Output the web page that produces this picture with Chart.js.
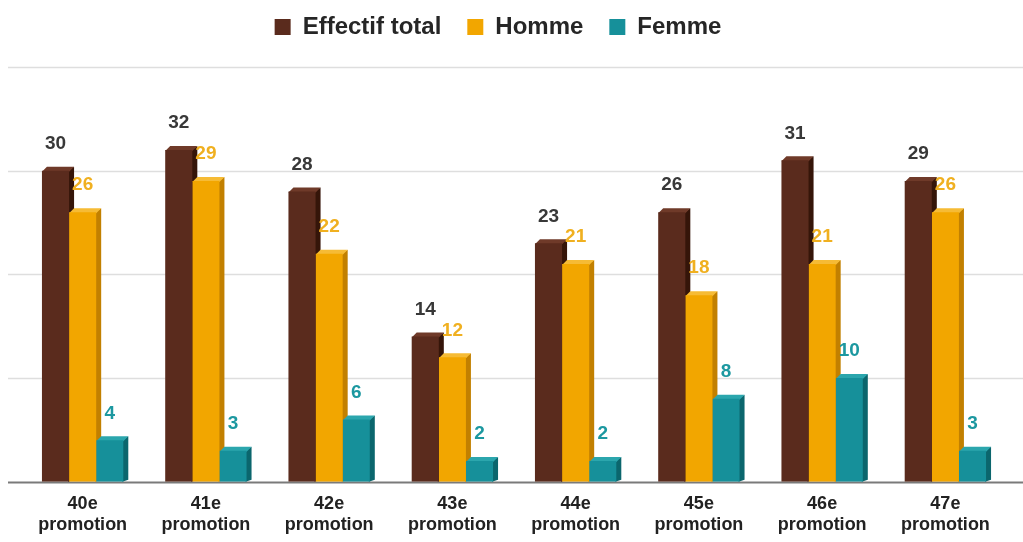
<!DOCTYPE html>
<html>
<head>
<meta charset="utf-8">
<script src="https://cdn.jsdelivr.net/npm/chart.js@4.4.1/dist/chart.umd.min.js"></script>
<style>
  html, body { margin: 0; padding: 0; background: #fff; }
  #wrap { width: 1023px; height: 542px; }
</style>
</head>
<body>
<div id="wrap"><canvas id="promoChart"></canvas></div>
<script>
const promotions = [
  ['40e', 'promotion'], ['41e', 'promotion'], ['42e', 'promotion'], ['43e', 'promotion'],
  ['44e', 'promotion'], ['45e', 'promotion'], ['46e', 'promotion'], ['47e', 'promotion']
];
const effectifTotal = [30, 32, 28, 14, 23, 26, 31, 29];
const hommes = [26, 29, 22, 12, 21, 18, 21, 26];
const femmes = [4, 3, 6, 2, 2, 8, 10, 3];

const FONT = '"Liberation Sans", Arial, sans-serif';

// front / side / top colours and label colour per series
const styles = [
  { front: '#5a2b1d', side: '#351509', top: '#6f3a29', label: '#383838' },
  { front: '#f2a600', side: '#c28000', top: '#f6bb35', label: '#f0b020' },
  { front: '#16909a', side: '#0b666d', top: '#2ba6ad', label: '#1c98a0' }
];

const DX = 5, DY = 4;

// fake 3D faces, drawn before the fronts so the next bar covers the side
const bar3d = {
  id: 'bar3d',
  beforeDatasetsDraw(chart) {
    const ctx = chart.ctx;
    ctx.save();
    chart.data.datasets.forEach((ds, i) => {
      const st = styles[i];
      chart.getDatasetMeta(i).data.forEach(bar => {
        const { x, y, base, width } = bar.getProps(['x', 'y', 'base', 'width'], true);
        const l = x - width / 2, r = x + width / 2;
        ctx.fillStyle = st.side;
        ctx.beginPath();
        ctx.moveTo(r - 1, y);
        ctx.lineTo(r + DX, y - DY);
        ctx.lineTo(r + DX, base - 2);
        ctx.lineTo(r - 1, base);
        ctx.closePath();
        ctx.fill();
        ctx.fillStyle = st.top;
        ctx.beginPath();
        ctx.moveTo(l, y + 1);
        ctx.lineTo(l + DX, y - DY);
        ctx.lineTo(r + DX, y - DY);
        ctx.lineTo(r, y + 1);
        ctx.closePath();
        ctx.fill();
      });
    });
    ctx.restore();
  }
};

// gridlines across the full width + base line
const fullGrid = {
  id: 'fullGrid',
  beforeDatasetsDraw(chart) {
    const ctx = chart.ctx;
    const yScale = chart.scales.y;
    ctx.save();
    yScale.ticks.forEach(t => {
      const py = Math.round(yScale.getPixelForValue(t.value)) + 0.5;
      ctx.beginPath();
      if (t.value === 0) {
        ctx.strokeStyle = '#7a7a7a';
        ctx.lineWidth = 2;
      } else {
        ctx.strokeStyle = '#dedede';
        ctx.lineWidth = 1.5;
      }
      ctx.moveTo(8, py);
      ctx.lineTo(chart.width, py);
      ctx.stroke();
    });
    ctx.restore();
  }
};

const valueLabels = {
  id: 'valueLabels',
  afterDatasetsDraw(chart) {
    const ctx = chart.ctx;
    ctx.save();
    ctx.font = 'bold 19px ' + FONT;
    ctx.textAlign = 'center';
    ctx.textBaseline = 'middle';
    chart.data.datasets.forEach((ds, i) => {
      ctx.fillStyle = styles[i].label;
      chart.getDatasetMeta(i).data.forEach((bar, j) => {
        ctx.fillText(ds.data[j], bar.x, bar.y - 27);
      });
    });
    ctx.restore();
  }
};

// extra room under the legend, and legend a bit left of centre
const legendSpace = {
  id: 'legendSpace',
  beforeInit(chart) {
    const fit = chart.legend.fit;
    chart.legend.fit = function () {
      fit.call(this);
      this.height += 18;
    };
  },
  afterLayout(chart) {
    chart.legend.left -= 16;
    chart.legend.right -= 16;
  }
};

new Chart(document.getElementById('promoChart'), {
  type: 'bar',
  data: {
    labels: promotions,
    datasets: [
      { label: 'Effectif total', data: effectifTotal, backgroundColor: styles[0].front },
      { label: 'Homme', data: hommes, backgroundColor: styles[1].front },
      { label: 'Femme', data: femmes, backgroundColor: styles[2].front }
    ]
  },
  options: {
    responsive: true,
    maintainAspectRatio: false,
    animation: false,
    layout: { padding: { left: 21, right: 16, top: -11, bottom: 3 } },
    datasets: { bar: { categoryPercentage: 0.66, barPercentage: 1 } },
    plugins: {
      legend: {
        position: 'top',
        labels: {
          boxWidth: 16,
          boxHeight: 16,
          padding: 26,
          color: '#262626',
          font: { family: FONT, size: 24, weight: 'bold' }
        }
      },
      tooltip: { enabled: false }
    },
    scales: {
      x: {
        grid: { display: false },
        border: { display: false },
        ticks: {
          color: '#222',
          padding: 3,
          font: { family: FONT, size: 18, weight: 'bold', lineHeight: 1.2 }
        }
      },
      y: {
        display: false,
        min: 0,
        max: 40,
        ticks: { stepSize: 10 }
      }
    }
  },
  plugins: [legendSpace, fullGrid, bar3d, valueLabels]
});
</script>
</body>
</html>
